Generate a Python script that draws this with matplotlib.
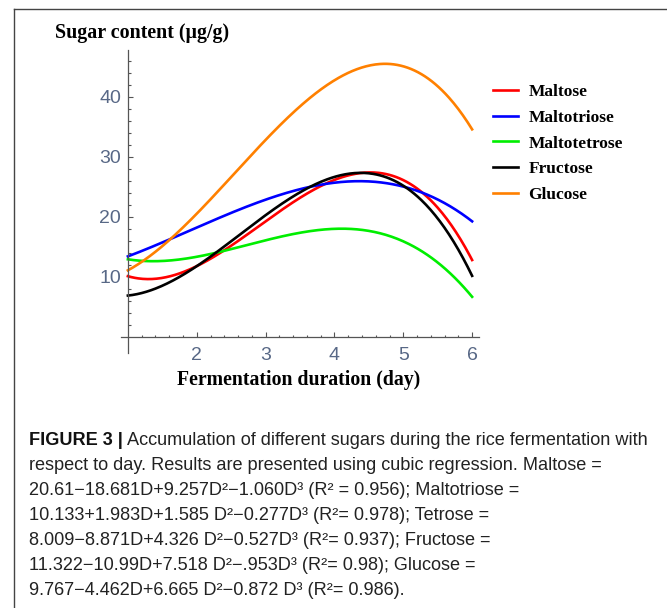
import numpy as np
import matplotlib
matplotlib.use("Agg")
import matplotlib.pyplot as plt
from matplotlib import font_manager
from matplotlib.lines import Line2D
from matplotlib.ticker import FixedLocator

#Fonts
names = {f.name for f in font_manager.fontManager.ttflist}
NARROW = "Liberation Sans Narrow" if "Liberation Sans Narrow" in names else "Liberation Sans"
SERIF = "Liberation Serif"

#Data: cubic regression a + b*D + c*D^2 + d*D^3 (values from the caption)
sugars = ["Maltose", "Maltotriose", "Maltotetrose", "Fructose", "Glucose"]
colors = ["#ff0000", "#0000ff", "#00ee00", "#000000", "#ff8000"]
const_coef = [20.61, 10.133, 18.009, 11.322, 9.767]   #tetrose constant: plotted curve uses 18.009
lin_coef = [-18.681, 1.983, -8.871, -10.99, -4.462]
quad_coef = [9.257, 1.585, 4.326, 7.518, 6.665]
cub_coef = [-1.060, -0.277, -0.527, -0.953, -0.872]
day_start, day_end = 1, 6

x_ticks = [2, 3, 4, 5, 6]
y_ticks = [10, 20, 30, 40]

caption_bold = "FIGURE 3 |"
caption_lines = [
    "Accumulation of different sugars during the rice fermentation with",
    "respect to day. Results are presented using cubic regression. Maltose =",
    "20.61\u221218.681D+9.257D\u00b2\u22121.060D\u00b3 (R\u00b2 = 0.956); Maltotriose =",
    "10.133+1.983D+1.585 D\u00b2\u22120.277D\u00b3 (R\u00b2= 0.978); Tetrose =",
    "8.009\u22128.871D+4.326 D\u00b2\u22120.527D\u00b3 (R\u00b2= 0.937); Fructose =",
    "11.322\u221210.99D+7.518 D\u00b2\u2212.953D\u00b3 (R\u00b2= 0.98); Glucose =",
    "9.767\u22124.462D+6.665 D\u00b2\u22120.872 D\u00b3 (R\u00b2= 0.986).",
]

W, H = 667, 608
fig = plt.figure(figsize=(W / 100, H / 100), dpi=100)

def fx(px):
    return px / W

def fy(py):
    return 1 - py / H

#Plot area (Mathematica-like crossing axes)
ax = fig.add_axes([fx(121), fy(353), fx(479) - fx(121), fy(50) - fy(353)])
ax.set_xlim(0.9, 6.1)
ax.set_ylim(-2.67, 47.8)

D = np.linspace(day_start, day_end, 300)
for name, col, a, b, c, d in zip(sugars, colors, const_coef, lin_coef, quad_coef, cub_coef):
    ax.plot(D, np.polyval([d, c, b, a], D), color=col, lw=1.9, label=name)

for s in ["top", "right"]:
    ax.spines[s].set_visible(False)
ax.spines["left"].set_position(("data", 1))
ax.spines["bottom"].set_position(("data", 0))
for s in ["left", "bottom"]:
    ax.spines[s].set_color("#555555")
    ax.spines[s].set_linewidth(0.9)

ax.xaxis.set_major_locator(FixedLocator(x_ticks))
ax.xaxis.set_minor_locator(FixedLocator([v / 5 for v in range(6, 31) if v % 5]))
ax.yaxis.set_major_locator(FixedLocator(y_ticks))
ax.yaxis.set_minor_locator(FixedLocator([v for v in range(2, 48, 2) if v % 10]))
ax.tick_params(which="both", direction="in", color="#555555", width=0.8)
ax.tick_params(which="major", length=3.5)
ax.tick_params(which="minor", length=1.8)
ax.tick_params(axis="x", which="major", pad=7)
ax.tick_params(axis="y", which="major", pad=5)
for lab in ax.get_xticklabels() + ax.get_yticklabels():
    lab.set_fontfamily(NARROW)
    lab.set_fontsize(14)
    lab.set_color("#586886")

#Axis labels
fig.text(fx(55), fy(33), "Sugar content (\u00b5g/g)", family=SERIF, weight="bold",
         fontsize=14.4, ha="left", va="center")
fig.text(fx(299), fy(380), "Fermentation duration (day)", family=SERIF, weight="bold",
         fontsize=14.2, ha="center", va="center")

#Legend
leg = ax.legend(loc="upper left", bbox_to_anchor=(fx(493), fy(84)), bbox_transform=fig.transFigure,
                frameon=False, borderpad=0, borderaxespad=0, handlelength=1.45,
                handletextpad=0.6, labelspacing=0.55,
                prop={"family": SERIF, "weight": "bold", "size": 12.5})

#Outer frame
fig.add_artist(Line2D([fx(14), fx(14)], [fy(9), -0.1], color="#444444", lw=1.0))
fig.add_artist(Line2D([fx(14), 1.1], [fy(9), fy(9)], color="#444444", lw=1.0))

#Caption
renderer = fig.canvas.get_renderer()
cap_x = fx(29)
base0 = 445
for i, line in enumerate(caption_lines):
    yb = fy(base0 + i * 25)
    x0 = cap_x
    if i == 0:
        tb = fig.text(x0, yb, caption_bold, family=NARROW, weight="bold", fontsize=13.1,
                      color="#111111", va="baseline", ha="left")
        w = tb.get_window_extent(renderer).width
        x0 = cap_x + (w + 4) / W
    fig.text(x0, yb, line, family=NARROW, fontsize=13.1, color="#222222",
             va="baseline", ha="left")

fig.savefig("out.png", dpi=100)
